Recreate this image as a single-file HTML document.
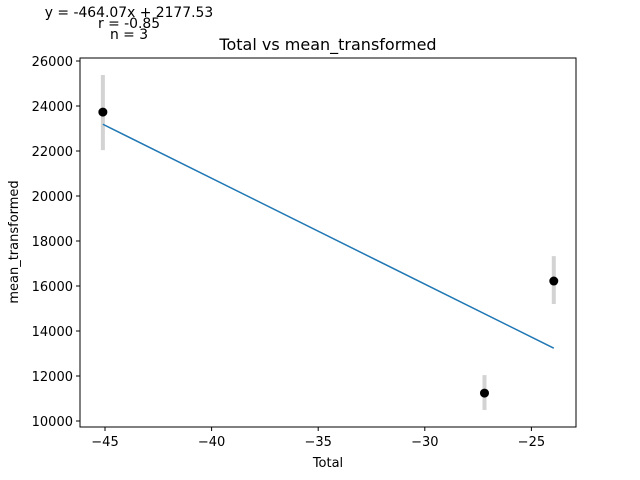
<!DOCTYPE html>
<html><head><meta charset="utf-8"><style>
body{margin:0;background:#fff;}
svg{display:block;font-family:"DejaVu Sans","Liberation Sans",sans-serif;}
</style></head><body>
<svg id="chart" width="640" height="480" viewBox="0 0 640 480">
<rect width="640" height="480" fill="#fff"/>
<g id="annot" font-size="13.9" text-anchor="middle" fill="#000">
<text x="129" y="17">y = -464.07x + 2177.53</text>
<text x="129" y="28">r = -0.85</text>
<text x="129" y="39">n = 3</text>
</g>
<text x="328" y="50" font-size="16" text-anchor="middle">Total vs mean_transformed</text>
<g id="plot"></g>
<rect x="80" y="58" width="496" height="369" fill="none" stroke="#000" stroke-width="1"/>
<text x="328" y="467" font-size="13" text-anchor="middle">Total</text>
<text x="18" y="242" font-size="13" text-anchor="middle" transform="rotate(-90 18 242)">mean_transformed</text>
</svg>
<script>
const xVals=[-45.1,-27.2,-23.95];
const yVals=[23730,11240,16220];
const errLow=[22040,10490,15200];
const errHigh=[25380,12040,17330];
const xTicks=[-45,-40,-35,-30,-25];
const yTicks=[10000,12000,14000,16000,18000,20000,22000,24000,26000];
const NS="http://www.w3.org/2000/svg";
function X(v){return 105+(v+45)*21.32;}
function Y(v){return 61+(26000-v)*0.0225;}
const g=document.getElementById('plot');
function mk(t,a){const e=document.createElementNS(NS,t);for(const k in a)e.setAttribute(k,a[k]);return e;}
xTicks.forEach(t=>{
 const l=mk('line',{x1:X(t),x2:X(t),y1:427,y2:431,stroke:'#000'});
 
 
 g.appendChild(l);
 const tx=mk('text',{x:X(t),y:446,'font-size':13,'text-anchor':'middle'});
 tx.textContent='\u2212'+Math.abs(t);
 
 
 g.appendChild(tx);
});
yTicks.forEach(t=>{
 const l=mk('line',{x1:76,x2:80,y1:Y(t),y2:Y(t),stroke:'#000'});
 
 
 g.appendChild(l);
 const tx=mk('text',{x:73,y:Y(t)+5,'font-size':13,'text-anchor':'end'});
 tx.textContent=t;
 
 
 g.appendChild(tx);
});
xVals.forEach((x,i)=>{
 const e=mk('line',{x1:X(x),x2:X(x),y1:Y(errHigh[i]),y2:Y(errLow[i]),stroke:'#d3d3d3','stroke-width':4});
 
 
 g.appendChild(e);
});
const n=xVals.length,mx=xVals.reduce((a,b)=>a+b)/n,my=yVals.reduce((a,b)=>a+b)/n;
let sxy=0,sxx=0;xVals.forEach((x,i)=>{sxy+=(x-mx)*(yVals[i]-my);sxx+=(x-mx)**2;});
const sl=sxy/sxx,ic=my-sl*mx,x0=Math.min(...xVals),x1=Math.max(...xVals);
const fit=mk('line',{x1:X(x0),y1:Y(sl*x0+ic),x2:X(x1),y2:Y(sl*x1+ic),stroke:'#1f77b4','stroke-width':1.5});


g.appendChild(fit);
xVals.forEach((x,i)=>{
 const c=mk('circle',{cx:X(x),cy:Y(yVals[i]),r:4.5,fill:'#000'});
 
 
 g.appendChild(c);
});
</script>
</body></html>
